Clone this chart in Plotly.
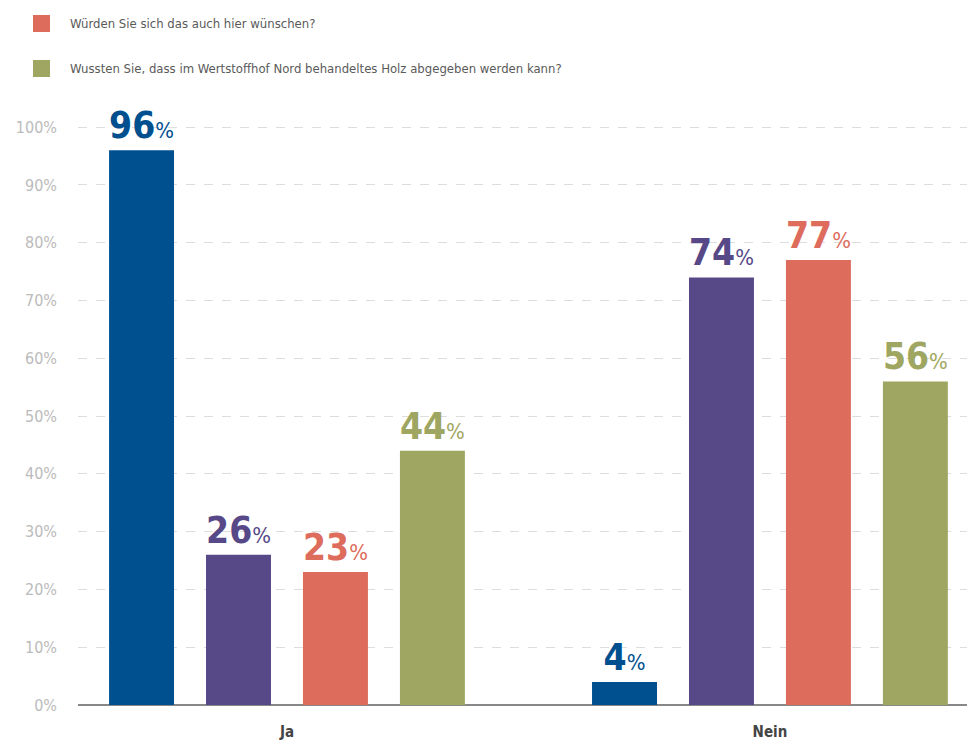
import plotly.graph_objects as go

# Survey answers (percent)
categories = ["Ja", "Nein"]
series_names = [
    "Frage 1",
    "Frage 2",
    "Würden Sie sich das auch hier wünschen?",
    "Wussten Sie, dass im Wertstoffhof Nord behandeltes Holz abgegeben werden kann?",
]
values_q1 = [96, 4]
values_q2 = [26, 74]
values_q3 = [23, 77]
values_q4 = [44, 56]
series_colors = ["#00508f", "#574888", "#dd6c5d", "#9fa662"]
legend_series = [2, 3]  # entries listed in the legend block
y_ticks = [0, 10, 20, 30, 40, 50, 60, 70, 80, 90, 100]

FONT = "Liberation Sans Narrow, DejaVu Sans Condensed, Roboto Condensed, Arial Narrow, Open Sans, sans-serif"

fig = go.Figure()
for name, vals, col in zip(series_names, [values_q1, values_q2, values_q3, values_q4], series_colors):
    fig.add_trace(go.Bar(
        x=categories, y=vals, name=name,
        marker=dict(color=col, line=dict(width=0)),
        texttemplate="<b>%{y}</b><span style='font-size:22px'>%</span>",
        textposition="outside",
        textfont=dict(family=FONT, size=37, color=col),
        cliponaxis=False,
        showlegend=False,
    ))

# Legend block: coloured squares with question texts
shapes = []
annotations = []
for i, idx in enumerate(legend_series):
    y0 = 15 + i * 45
    shapes.append(dict(type="rect", xref="paper", yref="paper",
                       x0=(33 - 78) / 889, x1=(50 - 78) / 889,
                       y0=1 + (126 - y0) / 579, y1=1 + (126 - (y0 + 17)) / 579,
                       fillcolor=series_colors[idx], line=dict(width=0)))
    annotations.append(dict(xref="paper", yref="paper",
                            x=(68 - 78) / 889, y=1 + (126 - (y0 + 8.5)) / 579,
                            xanchor="left", yanchor="middle", showarrow=False,
                            text=series_names[idx],
                            font=dict(family=FONT, size=13, color="#5a5a5a")))

fig.update_layout(
    width=967, height=740,
    margin=dict(l=78, r=0, t=126, b=35),
    paper_bgcolor="white", plot_bgcolor="white",
    barmode="group", bargap=0.197, bargroupgap=0.33,
    showlegend=False,
    shapes=shapes, annotations=annotations,
    font=dict(family=FONT),
)
fig.update_xaxes(
    range=[-0.4327, 1.408],
    showgrid=False, zeroline=False, showline=False,
    ticks="", ticklabelstandoff=16,
    tickfont=dict(family=FONT, size=15, color="#444444"),
    tickprefix="<b>", ticksuffix="</b>",
)
fig.update_yaxes(
    range=[0, 100.2], tickvals=y_ticks, ticktext=[f"{v}%" for v in y_ticks],
    showgrid=True, gridcolor="#dddddd", griddash="dash", gridwidth=1,
    zeroline=True, zerolinecolor="#888888", zerolinewidth=2,
    showline=False, ticks="", ticklabelstandoff=20,
    tickfont=dict(family=FONT, size=16, color="#bbbbbb"),
)

fig.write_html("out.html")
